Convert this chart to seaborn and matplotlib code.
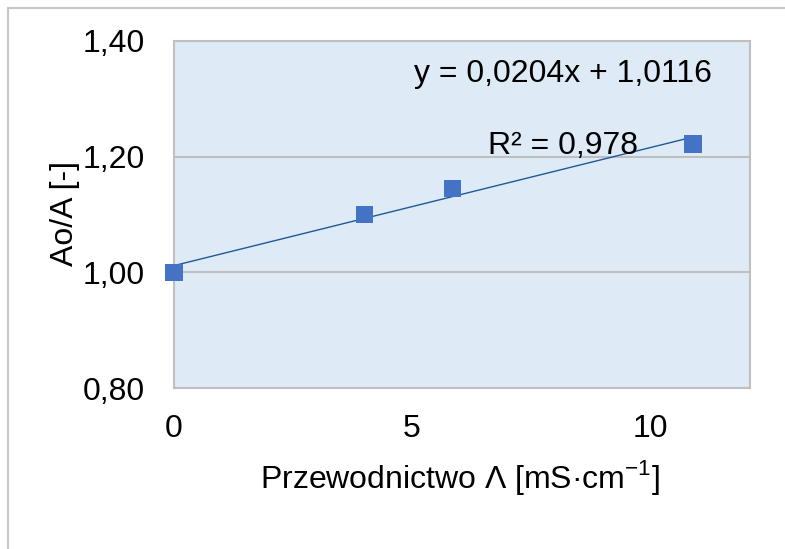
import matplotlib
matplotlib.use("Agg")
import matplotlib.pyplot as plt
import matplotlib.patches as mpatches
import numpy as np
import pandas as pd
import seaborn as sns

# Measured data
conductivity = [0.0, 4.0, 5.85, 10.9]
absorbance_ratio = [1.000, 1.100, 1.145, 1.222]

# Linear trendline as reported
slope = 0.0204
intercept = 1.0116
r_squared = 0.978

x_ticks = [0, 5, 10]
y_ticks = [0.80, 1.00, 1.20, 1.40]

sns.set_theme(style="white")
plt.rcParams["font.family"] = ["Liberation Sans", "DejaVu Sans"]
plt.rcParams["mathtext.fontset"] = "custom"
plt.rcParams["mathtext.rm"] = "Liberation Sans"

FS = 23

fig = plt.figure(figsize=(7.85, 5.49), dpi=100)
fig.patch.set_facecolor("white")

W, H = 785, 549
ax = fig.add_axes([174 / W, 1 - 388 / H, (750 - 174) / W, (388 - 41) / H])
ax.set_facecolor("#DEEAF6")

df = pd.DataFrame({"x": conductivity, "y": absorbance_ratio})

trend_x = np.array([min(conductivity), max(conductivity)])
trend = pd.DataFrame({"x": trend_x, "y": slope * trend_x + intercept})

sns.lineplot(data=trend, x="x", y="y", ax=ax, color="#1F5A96", linewidth=1.0, zorder=3)
sns.scatterplot(data=df, x="x", y="y", ax=ax, marker="s", s=160, color="#4472C4",
                edgecolor="none", linewidth=0, zorder=4, clip_on=False)

ax.set_xlim(0, 12.1)
ax.set_ylim(0.80, 1.40)
ax.set_xticks(x_ticks)
ax.set_yticks(y_ticks)
ax.set_xticklabels([str(t) for t in x_ticks])
ax.set_yticklabels([f"{t:.2f}".replace(".", ",") for t in y_ticks])
ax.tick_params(axis="both", length=0, labelsize=FS, colors="black")
ax.tick_params(axis="x", pad=19)
ax.tick_params(axis="y", pad=21)

ax.grid(axis="y", color="#BFBFBF", linewidth=1.5)
ax.set_axisbelow(True)
for side in ax.spines.values():
    side.set_color("#BFBFBF")
    side.set_linewidth(1.5)

ax.set_xlabel("Przewodnictwo Λ [mS·cm$^{\\mathregular{-1}}$]", fontsize=FS, color="black")
ax.set_ylabel("Ao/A [-]", fontsize=FS, color="black")
ax.xaxis.set_label_coords(0.4965, -0.202)
ax.yaxis.set_label_coords(-0.163, 0.504)

eq = f"y = {slope:.4f}x + {intercept:.4f}".replace(".", ",")
ax.text(0.675, 0.905, eq, transform=ax.transAxes, ha="center", va="center",
        fontsize=FS, color="black")
ax.text(0.675, 0.697, f"R² = {r_squared:.3f}".replace(".", ","), transform=ax.transAxes,
        ha="center", va="center", fontsize=FS, color="black")

# Outer chart frame
frame = mpatches.Rectangle((8 / W, -0.1), 1.2, 1 - 8 / H + 0.1, transform=fig.transFigure,
                           fill=False, edgecolor="#C8C8C8", linewidth=1.5, clip_on=False)
fig.patches.append(frame)

fig.savefig("out.png", dpi=100)
